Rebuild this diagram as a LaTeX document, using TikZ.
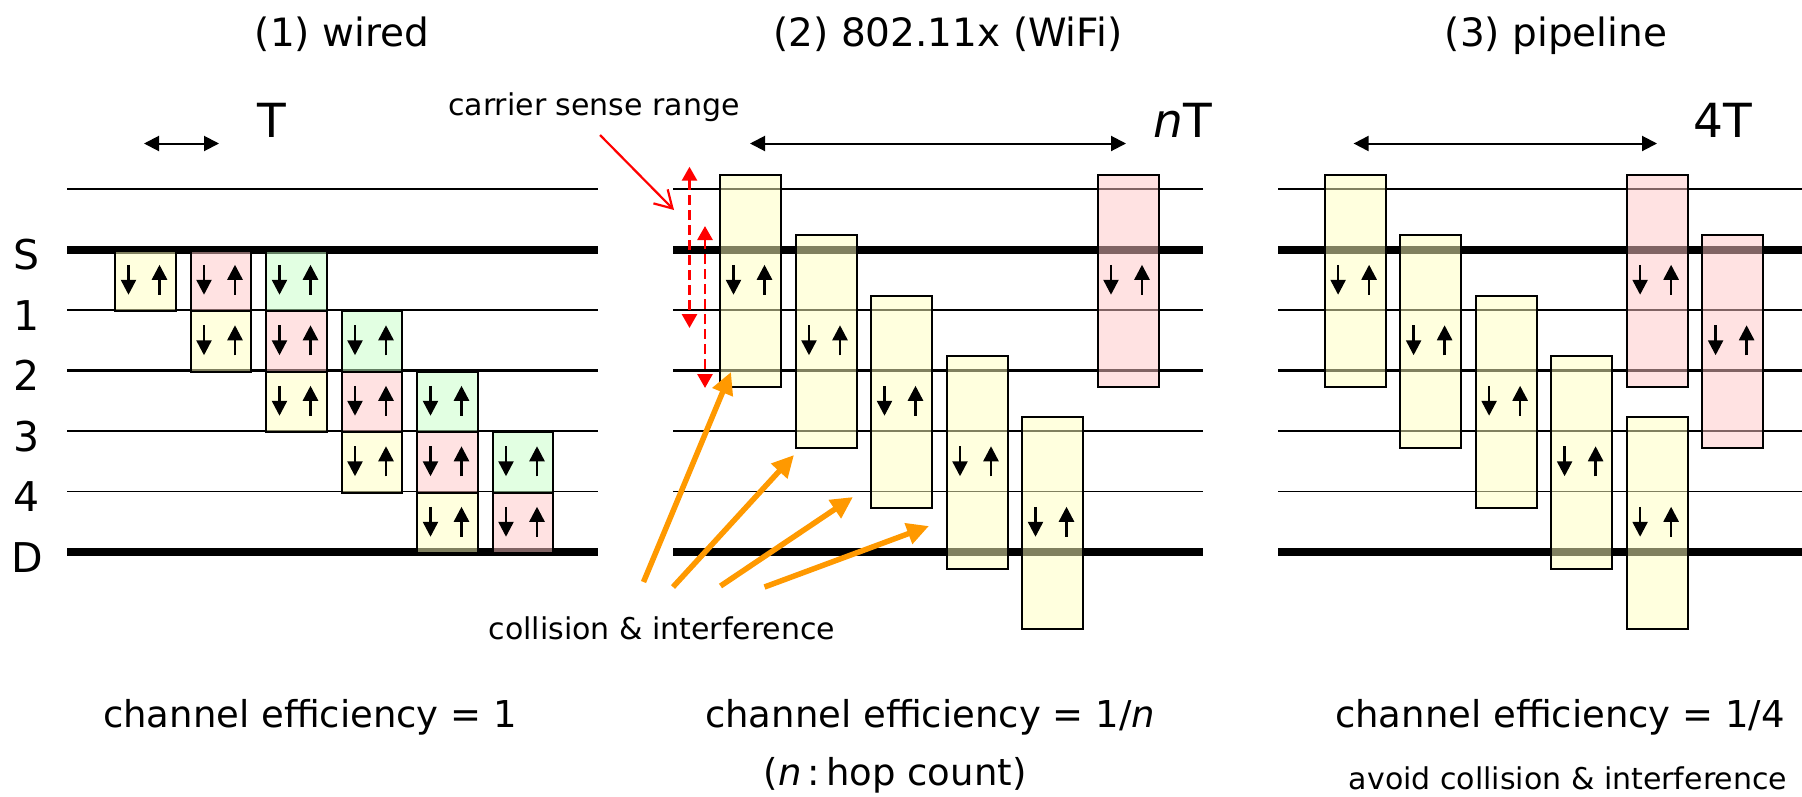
\documentclass[tikz,border=0pt]{standalone}
\usepackage{fontspec}
\setmainfont{DejaVu Sans}
\usetikzlibrary{arrows.meta}
\definecolor{cyel}{RGB}{255,255,190}
\definecolor{cpink}{RGB}{255,198,198}
\definecolor{cgreen}{RGB}{198,255,198}
\definecolor{corange}{RGB}{255,153,0}
\definecolor{cred}{RGB}{255,0,0}
\newcommand\fTitle{\fontsize{39}{46}\selectfont}
\newcommand\fBig{\fontsize{37}{44}\selectfont}
\newcommand\fLab{\fontsize{41}{48}\selectfont}
\newcommand\fTee{\fontsize{47}{54}\selectfont}
\newcommand\fSmall{\fontsize{30}{36}\selectfont}
\newcommand\updn[2]{%
  \draw[inarrow] (#1+14.5,#2-15) -- (#1+14.5,#2+15);
  \draw[inarrow] (#1+45.5,#2+15) -- (#1+45.5,#2-15);}
\tikzset{
  thinlane/.style={line width=1.6pt},
  medlane/.style={line width=2.6pt},
  thicklane/.style={line width=8pt},
  cell/.style={draw=black, line width=2.2pt, fill opacity=0.5, inner sep=0pt,
    anchor=north west, minimum width=60.5pt, minimum height=60.5pt},
  tallcell/.style={cell, minimum width=61pt, minimum height=212.5pt},
  inarrow/.style={line width=2.5pt, -{Triangle[length=15pt,width=15pt]}},
  dimarrow/.style={line width=2pt, {Triangle[length=15pt,width=15pt]}-{Triangle[length=15pt,width=15pt]}},
  csarrow/.style={cred, line width=2.8pt, dash pattern=on 10pt off 5pt,
    {Triangle[length=14pt,width=15pt]}-{Triangle[length=14pt,width=15pt]}},
  ptrarrow/.style={cred, line width=2.2pt, -{Straight Barb[length=17pt,width=20pt]}},
  colarrow/.style={corange, line width=5.5pt, -{Triangle[length=22pt,width=21pt]}},
  txt/.style={inner sep=0pt, anchor=base},
}
\begin{document}
\begin{tikzpicture}[x=1pt,y=-1pt]
\useasboundingbox (0,0) rectangle (1802,796);
% ---------- lanes ----------
\foreach \xa/\xb in {67/598, 673/1203, 1278/1802} {
  \draw[medlane]   (\xa,189)   -- (\xb,189);
  \draw[thicklane] (\xa,249.5) -- (\xb,249.5);
  \draw[thinlane]  (\xa,310)   -- (\xb,310);
  \draw[medlane]   (\xa,370.5) -- (\xb,370.5);
  \draw[thinlane]  (\xa,431)   -- (\xb,431);
  \draw[thinlane]  (\xa,491.5) -- (\xb,491.5);
  \draw[thicklane] (\xa,552)   -- (\xb,552);
}
% ---------- row labels ----------
\node[txt] (lS) at (27,269.5) {\fLab S};
\node[txt] (l1) at (27,330) {\fLab 1};
\node[txt] (l2) at (27,390.5) {\fLab 2};
\node[txt] (l3) at (27,451) {\fLab 3};
\node[txt] (l4) at (27,511.5) {\fLab 4};
\node[txt] (lD) at (27,572) {\fLab D};
% ---------- (1) wired ----------
\node[txt] (t1) at (342,46) {\fTitle (1) wired};
\coordinate (d1a) at (144,143.5);
\coordinate (d1b) at (219,143.5);
\draw[dimarrow] (d1a) -- (d1b);
\node[txt] (T1) at (272,137) {\fTee T};
\foreach \r/\c/\col in {0/0/cyel,0/1/cpink,0/2/cgreen,
                        1/1/cyel,1/2/cpink,1/3/cgreen,
                        2/2/cyel,2/3/cpink,2/4/cgreen,
                        3/3/cyel,3/4/cpink,3/5/cgreen,
                        4/4/cyel,4/5/cpink} {
  \node[cell, fill=\col] (w\r\c) at ({114+75.5*\c},{249.5+60.5*\r}) {};
  \updn{114+75.5*\c}{279.75+60.5*\r}
}
\node[txt] (e1) at (310,727) {\fBig channel efficiency = 1};
% ---------- (2) 802.11x ----------
\node[txt] (t2) at (948,46) {\fTitle (2) 802.11x (WiFi)};
\coordinate (d2a) at (750,143.5);
\coordinate (d2b) at (1126,143.5);
\draw[dimarrow] (d2a) -- (d2b);
\node[txt] (T2) at (1183,137) {\fTee\itshape n\upshape T};
\foreach \k/\c/\col in {0/0/cyel,1/1/cyel,2/2/cyel,3/3/cyel,4/4/cyel,0/5/cpink} {
  \node[tallcell, fill=\col] (m\c) at ({719+75.5*\c},{173.5+60.5*\k}) {};
  \updn{719+75.5*\c}{279.75+60.5*\k}
}
\node[txt] (cs) at (594,115) {\fSmall carrier sense range};
\coordinate (csa) at (600,135);
\coordinate (csb) at (674,210);
\draw[ptrarrow] (csa) -- (csb);
\coordinate (r1a) at (689.5,166.7);
\coordinate (r1b) at (689.5,328);
\coordinate (r2a) at (705,226);
\coordinate (r2b) at (705,388);
\draw[csarrow] (r1a) -- (r1b);
\draw[csarrow] (r2a) -- (r2b);
\node[txt] (ci) at (662,639) {\fSmall collision \& interference};
\coordinate (o1s) at (643.5,582);
\coordinate (o1e) at (731,372);
\coordinate (o2s) at (673,587);
\coordinate (o2e) at (794,455);
\coordinate (o3s) at (720.5,586);
\coordinate (o3e) at (853,497);
\coordinate (o4s) at (764.5,587);
\coordinate (o4e) at (929,526);
\draw[colarrow] (o1s) -- (o1e);
\draw[colarrow] (o2s) -- (o2e);
\draw[colarrow] (o3s) -- (o3e);
\draw[colarrow] (o4s) -- (o4e);
\node[txt] (e2) at (930,727) {\fBig channel efficiency = 1/\itshape n};
\node[txt] (hc) at (895,785) {\fBig (\itshape n\upshape\,:\,hop count)};
% ---------- (3) pipeline ----------
\node[txt] (t3) at (1556,46) {\fTitle (3) pipeline};
\coordinate (d3a) at (1353.6,143.5);
\coordinate (d3b) at (1657,143.5);
\draw[dimarrow] (d3a) -- (d3b);
\node[txt] (T3) at (1723,137) {\fTee 4T};
\foreach \k/\c/\col in {0/0/cyel,1/1/cyel,2/2/cyel,3/3/cyel,0/4/cpink,4/4/cyel,1/5/cpink} {
  \node[tallcell, fill=\col] (p\k\c) at ({1323.6+75.5*\c},{173.5+60.5*\k}) {};
  \updn{1323.6+75.5*\c}{279.75+60.5*\k}
}
\node[txt] (e3) at (1560,727) {\fBig channel efficiency = 1/4};
\node[txt] (av) at (1568,789) {\fSmall avoid collision \& interference};
\end{tikzpicture}
\end{document}
